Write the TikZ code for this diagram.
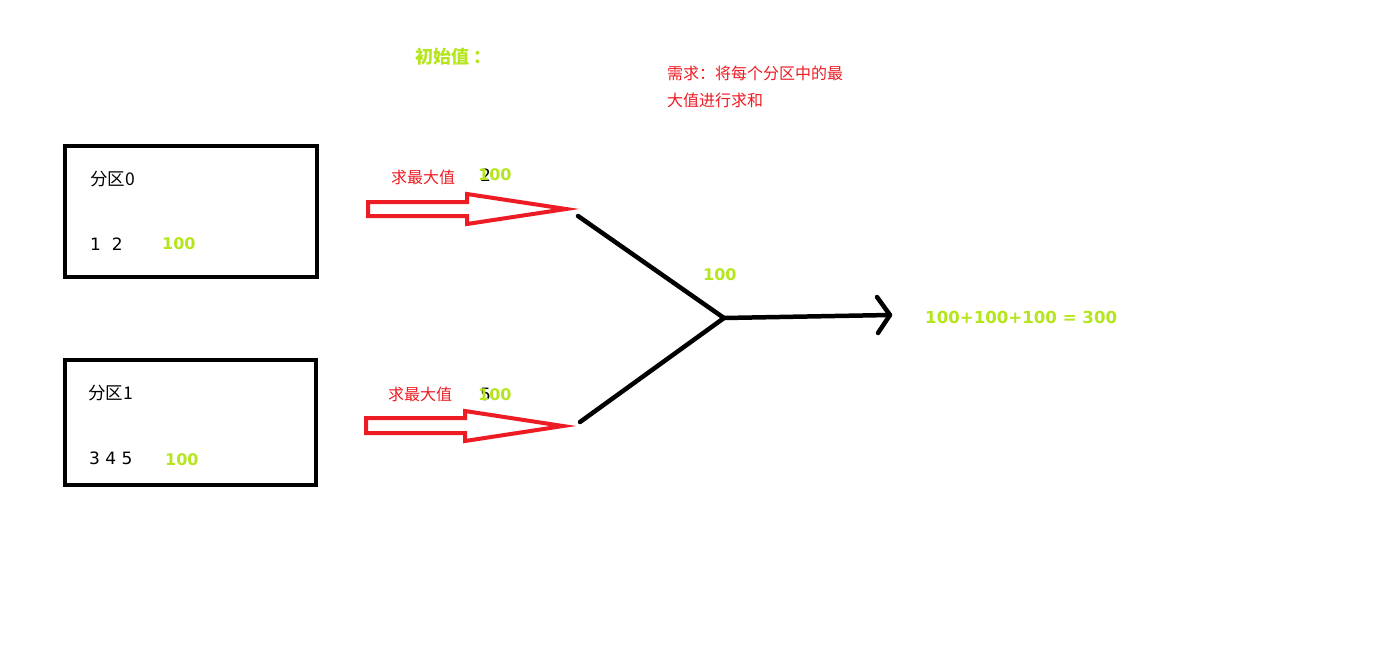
\documentclass[tikz,border=0pt]{standalone}
\usepackage{fontspec}
\newfontfamily\cjk{Noto Sans CJK SC}
\newfontfamily\num{DejaVu Sans}
\definecolor{lime}{HTML}{B5E61D}
\definecolor{pred}{HTML}{ED1C24}
\begin{document}
\begin{tikzpicture}[x=1pt,y=-1pt,
  part/.style={draw=black,line width=4pt,outer sep=0pt},
  txt/.style={inner sep=0pt,anchor=west,font=\cjk\fontsize{17.5}{20}\selectfont},
  digits/.style={inner sep=0pt,anchor=west,font=\num\fontsize{17}{20}\selectfont},
  val/.style={inner sep=0pt,anchor=west,text=lime,font=\num\bfseries\fontsize{16}{19}\selectfont},
  note/.style={inner sep=0pt,anchor=west,text=pred,font=\cjk\fontsize{16}{19}\selectfont},
  fat/.style={draw=pred,line width=4pt,line join=miter},
  flow/.style={draw=black,line width=4.5pt,line cap=round,line join=round}]
\useasboundingbox (0,0) rectangle (1397,648);
\fill[white] (0,0) rectangle (1397,648);

% the two partitions
\node[part,minimum width=252pt,minimum height=131pt,anchor=north west] (p0) at (65,146) {};
\node[part,minimum width=251pt,minimum height=125pt,anchor=north west] (p1) at (65,360) {};
\node[txt] (p0name) at (90,179) {分区0};
\node[digits] (p0data) at (90,244) {1\ \ 2};
\node[val] (p0init) at (162,244) {100};
\node[txt] (p1name) at (88,393) {分区1};
\node[digits] (p1data) at (89,458) {3 4 5};
\node[val] (p1init) at (165,460) {100};

% heading and requirement
\node[inner sep=0pt,anchor=west,text=lime,font=\cjk\bfseries\fontsize{18}{21}\selectfont] (init) at (415,57) {初始值\hspace{4pt}：};
\node[note] (req1) at (667,73) {需求：将每个分区中的最};
\node[note] (req2) at (667,100) {大值进行求和};

% hollow red arrows: max of each partition
\draw[fat] (368,202) -- (467,202) -- (467,194) -- (566,209) -- (467,224) -- (467,216) -- (368,216) -- cycle;
\draw[fat] (366,418) -- (465,418) -- (465,411) -- (563,426) -- (465,441) -- (465,433) -- (366,433) -- cycle;
\node[note] (max0) at (391,177) {求最大值};
\node[note] (max1) at (388,394) {求最大值};
% earlier maxima, written over by the initial value
\node[digits] (m0old) at (480,175) {2};
\node[val] (m0) at (478,175) {100};
\node[digits] (m1old) at (480,394) {5};
\node[val] (m1) at (478,395) {100};

% merging of the partial results
\coordinate (a0) at (578,216);
\coordinate (a1) at (580,422);
\coordinate (j) at (724,318);
\coordinate (e) at (890,315);
\draw[flow] (a0) -- (j) -- (a1);
\draw[flow] (j) -- (e);
\draw[flow] (877,297) -- (e) -- (878,333);
\node[val] (jinit) at (703,275) {100};
\node[val,font=\num\bfseries\fontsize{16.6}{19}\selectfont] (sum) at (925,317) {100+100+100 = 300};
\end{tikzpicture}
\end{document}
